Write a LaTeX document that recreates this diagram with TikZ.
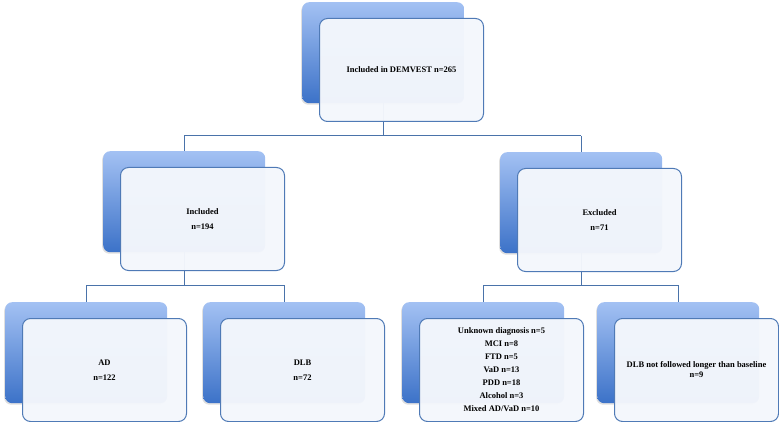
\documentclass[tikz,border=0pt]{standalone}
\usepackage{fontspec}
\setmainfont{Liberation Serif}
\usetikzlibrary{backgrounds,shadows}
\definecolor{bluetop}{HTML}{A3C1F3}
\definecolor{bluebot}{HTML}{3C72C8}
\definecolor{edgec}{HTML}{4F7AB6}
\definecolor{linec}{HTML}{4A73AA}
\definecolor{frontfill}{HTML}{F4F7FC}
\tikzset{
  backbox/.style={rectangle, rounded corners=7pt, minimum width=162pt, minimum height=101pt,
    anchor=north west, inner sep=0pt, top color=bluetop, bottom color=bluebot, draw=none,
    drop shadow={shadow xshift=-1pt, shadow yshift=-1.5pt, opacity=0.25}},
  frontbox/.style={rectangle, rounded corners=8pt, minimum width=164pt, minimum height=103pt,
    anchor=north west, inner sep=2pt, draw=edgec, line width=1pt, fill=frontfill,
    fill opacity=0.97, text opacity=1, align=center,
    font=\bfseries\fontsize{8.5}{15}\selectfont},
  conn/.style={draw=linec, line width=1pt}
}
\begin{document}
\begin{tikzpicture}[x=1pt,y=-1pt]
\useasboundingbox (0,0) rectangle (779,422);
% back boxes
\node[backbox] (b1) at (302,2) {};
\node[backbox] (b2) at (103,151) {};
\node[backbox] (b3) at (500,152) {};
\node[backbox] (b4) at (5,302) {};
\node[backbox] (b5) at (203,302) {};
\node[backbox] (b6) at (402,302) {};
\node[backbox] (b7) at (597,302) {};
% connectors
\begin{scope}[on background layer]
\coordinate (h1) at (0,136);
\coordinate (h2) at (0,285);
\draw[conn] (b1.center) -- (b1.center |- h1) coordinate (j1);
\draw[conn] (b2.north |- h1) -- (b3.north |- h1);
\draw[conn] (b2.north |- h1) -- (b2.north);
\draw[conn] (b3.north |- h1) -- (b3.north);
\draw[conn] (b2.center) -- (b2.center |- h2);
\draw[conn] (b4.north |- h2) -- (b5.north |- h2);
\draw[conn] (b4.north |- h2) -- (b4.north);
\draw[conn] (b5.north |- h2) -- (b5.north);
\draw[conn] (b3.center) -- (b3.center |- h2);
\draw[conn] (b6.north |- h2) -- (b7.north |- h2);
\draw[conn] (b6.north |- h2) -- (b6.north);
\draw[conn] (b7.north |- h2) -- (b7.north);
\end{scope}
% front boxes
\node[frontbox] (f1) at (319,18) {Included in DEMVEST n=265};
\node[frontbox] (f2) at (120,167) {Included\\n=194};
\node[frontbox] (f3) at (517,168) {Excluded\\n=71};
\node[frontbox] (f4) at (22,318) {AD\\n=122};
\node[frontbox] (f5) at (220,318) {DLB\\n=72};
\node[frontbox, font=\bfseries\fontsize{8.5}{13}\selectfont] (f6) at (419,318) {Unknown diagnosis n=5\\MCI n=8\\FTD n=5\\VaD n=13\\PDD n=18\\Alcohol n=3\\Mixed AD/VaD n=10};
\node[frontbox, font=\bfseries\fontsize{8.5}{10}\selectfont] (f7) at (614,318) {DLB not followed longer than baseline\\n=9};
\end{tikzpicture}
\end{document}
